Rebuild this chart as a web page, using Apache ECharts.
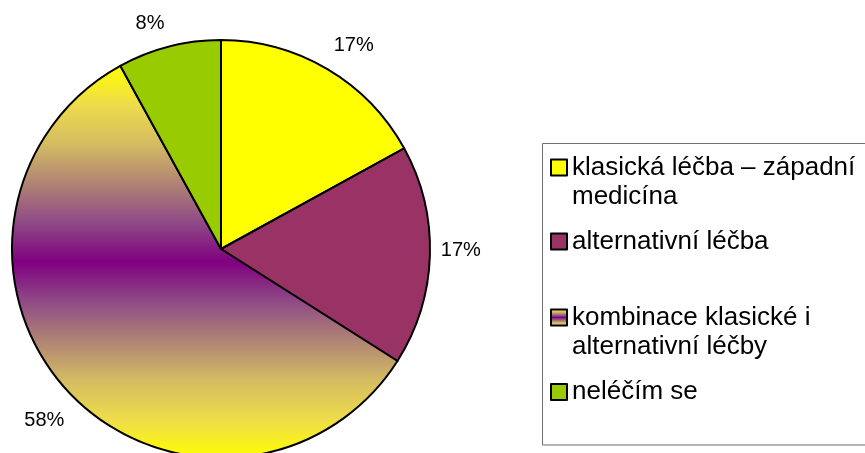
<!DOCTYPE html>
<html>
<head>
<meta charset="utf-8">
<script src="https://cdn.jsdelivr.net/npm/echarts@6/dist/echarts.min.js"></script>
<style>
  html, body { margin: 0; padding: 0; background: #fff; }
  #chart { width: 865px; height: 453px; }
</style>
</head>
<body>
<div id="chart"></div>
<script>
// data
const categories = [
  'klasická léčba – západní medicína',
  'alternativní léčba',
  'kombinace klasické i alternativní léčby',
  'neléčím se',
]
const legendLabels = [
  'klasická léčba – západní\nmedicína',
  'alternativní léčba',
  'kombinace klasické i\nalternativní léčby',
  'neléčím se',
]
const shares = [17, 17, 58, 8]

// layout / style
const FONT = '"Liberation Sans", Arial, sans-serif'
const CENTER = [221, 249]
const R = 209
const LINE_H = 29
const iconCentres = [167.5, 241.5, 317.5, 392]
// small nudges so the percentages sit where the original put them
const labelNudges = [[10, 4], [-1, -6], [-1, 7], [-11, 8]]

const mixGradient = new echarts.graphic.LinearGradient(0, 0, 0, 1, [
  { offset: 0, color: '#ffff00' },
  { offset: 0.1, color: '#eedc4a' },
  { offset: 0.2, color: '#d4bc62' },
  { offset: 0.3, color: '#b08474' },
  { offset: 0.4, color: '#8f4a86' },
  { offset: 0.5, color: '#800080' },
  { offset: 0.6, color: '#8f4a86' },
  { offset: 0.7, color: '#b08474' },
  { offset: 0.8, color: '#d4bc62' },
  { offset: 0.9, color: '#eedc4a' },
  { offset: 1, color: '#ffff00' },
])
const sliceColors = ['#ffff00', '#993366', mixGradient, '#99cc00']

const chart = echarts.init(document.getElementById('chart'))

const option = {
  animation: false,
  backgroundColor: '#fff',
  graphic: [{
    type: 'rect',
    shape: { x: 542.5, y: 143.5, width: 340, height: 301.5 },
    style: { fill: 'none', stroke: '#6e6e6e', lineWidth: 1 },
    silent: true,
  }],
  legend: categories.map((name, i) => {
    const twoLines = legendLabels[i].includes('\n')
    return {
      orient: 'vertical',
      left: 550,
      top: iconCentres[i] - (twoLines ? 1.5 * LINE_H : 0.5 * LINE_H),
      padding: 0,
      itemWidth: 16,
      itemHeight: 16,
      icon: 'rect',
      selectedMode: false,
      data: [name],
      // a blank first line keeps the icon level with the first text line
      formatter: () => (twoLines ? '\n' : '') + legendLabels[i],
      itemStyle: { borderColor: '#000', borderWidth: 2 },
      textStyle: {
        fontFamily: FONT,
        fontSize: 26,
        color: '#000',
        lineHeight: LINE_H,
      },
    }
  }),
  series: [
    {
      type: 'pie',
      center: CENTER,
      radius: R,
      startAngle: 90,
      clockwise: true,
      silent: true,
      label: { show: false },
      labelLine: { show: false },
      emphasis: { disabled: true },
      data: categories.map((name, i) => ({
        name,
        value: shares[i],
        itemStyle: { color: sliceColors[i], borderColor: '#000', borderWidth: 2 },
      })),
    },
    {
      // ring just outside the pie that only carries the percentage labels
      type: 'pie',
      center: CENTER,
      radius: [230, 246],
      startAngle: 90,
      clockwise: true,
      silent: true,
      avoidLabelOverlap: false,
      itemStyle: { color: 'rgba(0,0,0,0)', borderWidth: 0 },
      label: {
        show: true,
        position: 'inside',
        formatter: '{c}%',
        fontFamily: FONT,
        fontSize: 20,
        color: '#000',
      },
      labelLine: { show: false },
      emphasis: { disabled: true },
      data: categories.map((name, i) => ({
        name,
        value: shares[i],
        label: { offset: labelNudges[i] },
      })),
    },
  ],
}

chart.setOption(option)
</script>
</body>
</html>
